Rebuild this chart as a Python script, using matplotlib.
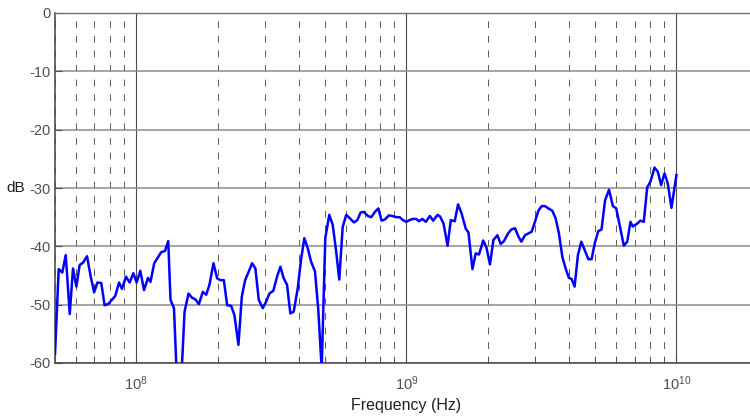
import numpy as np
import matplotlib
matplotlib.use("Agg")
import matplotlib.pyplot as plt
from matplotlib.ticker import LogLocator, NullFormatter

# measured response, frequency in MHz
freq_mhz = [50, 51.6, 53.2, 54.8, 56.7, 58.3, 60.0, 61.7, 63.5, 65.7,
            67.8, 69.8, 71.8, 74.2, 76.3, 78.6, 80.8, 83.6, 86.3, 88.5,
            91.6, 94.5, 97.5, 100.3, 103.5, 106.8, 110.5, 112.9, 116.5, 120.3,
            123.7, 127.7, 131.3, 133.9, 137.9, 141.4, 146.7, 150.9, 156.1, 160.7,
            165.6, 170.5, 176.4, 181.5, 186.6, 193.1, 199.3, 205.0, 211.0, 217.0,
            224.5, 230.9, 238.9, 245.9, 252.9, 261.0, 268.4, 276.1, 284.2, 294.0,
            302.4, 311.0, 321.8, 332.1, 341.6, 351.6, 361.6, 371.9, 382.8, 396.1,
            407.4, 419.0, 431.3, 443.6, 458.9, 472.0, 485.8, 501.0, 518.3, 533.6,
            548.8, 564.4, 581.0, 599, 618.1, 639.5, 658.4, 677.2, 696.4, 720.6,
            741.6, 764.9, 787.2, 809.7, 832.7, 861.6, 887.0, 917.7, 944.1, 971.0,
            999, 1028, 1057, 1088, 1113, 1146, 1181, 1222, 1257, 1305,
            1334, 1373, 1421, 1461, 1511, 1554, 1600, 1660, 1698, 1757,
            1807, 1858, 1926, 1980, 2040, 2101, 2174, 2236, 2299, 2379,
            2449, 2526, 2599, 2666, 2749, 2830, 2911, 2994, 3082, 3170,
            3260, 3356, 3472, 3571, 3673, 3781, 3888, 3999, 4092, 4198,
            4318, 4445, 4571, 4718, 4852, 4990, 5136, 5282, 5443, 5632,
            5817, 5988, 6158, 6388, 6575, 6761, 6895, 7159, 7362, 7572,
            7795, 8017, 8295, 8531, 8782, 9033, 9290, 9586, 10000]
level_db = [-58.5, -43.9, -44.5, -41.5, -51.6, -43.8, -46.9, -43.2, -42.8, -41.7,
            -45.2, -47.9, -46.2, -46.3, -50.1, -49.9, -49.3, -48.5, -46.2, -47.3,
            -45.2, -46.2, -44.6, -46.2, -44.2, -47.5, -45.4, -46.1, -42.9, -41.9,
            -41.0, -40.8, -39.1, -49.2, -50.6, -63.0, -63.0, -51.2, -48.1, -48.8,
            -49.1, -49.9, -47.8, -48.3, -46.6, -42.9, -45.5, -45.8, -45.8, -50.1,
            -50.2, -51.8, -56.9, -48.6, -45.8, -44.3, -42.9, -43.8, -49.2, -50.6,
            -49.5, -48.1, -47.6, -45.2, -43.5, -45.5, -46.6, -51.5, -51.2, -47.2,
            -42.3, -38.6, -40.3, -42.6, -44.3, -50.9, -61.0, -38.6, -34.6, -36.3,
            -40.6, -45.7, -36.7, -34.6, -35.2, -35.9, -35.5, -34.2, -34.1, -34.8,
            -35.0, -34.1, -33.5, -35.6, -35.4, -34.7, -34.8, -35.0, -35.0, -35.5,
            -35.8, -35.5, -35.3, -35.3, -35.7, -35.3, -35.8, -34.8, -35.6, -34.6,
            -34.9, -36.1, -39.9, -35.5, -35.7, -32.8, -34.3, -37.0, -37.6, -43.9,
            -41.2, -41.4, -39.0, -40.2, -43.1, -38.9, -38.1, -39.6, -39.1, -37.8,
            -37.1, -36.9, -38.3, -39.2, -38.1, -37.8, -37.5, -35.8, -33.9, -33.1,
            -33.1, -33.5, -33.9, -35.2, -37.8, -41.8, -43.8, -45.4, -45.6, -46.9,
            -41.5, -39.2, -40.6, -42.2, -42.2, -39.4, -37.4, -37.1, -32.1, -30.3,
            -33.1, -33.5, -36.3, -39.9, -39.2, -35.8, -36.6, -36.1, -35.6, -35.8,
            -29.9, -28.9, -26.5, -27.2, -29.5, -27.5, -29.2, -33.4, -27.8]

y_ticks = [0, -10, -20, -30, -40, -50, -60]

plt.rcParams['font.family'] = ['Liberation Sans', 'DejaVu Sans']
plt.rcParams['axes.unicode_minus'] = False

fig = plt.figure(figsize=(7.5, 4.2), dpi=100)
# right edge of the axes runs past the figure border
ax = fig.add_axes([55 / 750, 1 - 363 / 420, 702.7 / 750, 350 / 420])

f_hz = np.array(freq_mhz) * 1e6
ax.plot(f_hz, level_db, color='#0000ff', lw=1.8, zorder=5)

ax.set_xscale('log')
ax.set_xlim(5e7, 2e10)
ax.set_ylim(-60, 0)
ax.set_yticks(y_ticks)
ax.xaxis.set_major_locator(LogLocator(base=10, numticks=12))
ax.xaxis.set_minor_locator(LogLocator(base=10, subs=np.arange(2, 10), numticks=12))
ax.xaxis.set_minor_formatter(NullFormatter())

ax.grid(axis='y', which='major', color='#8c8c8c', lw=1.1)
ax.grid(axis='x', which='major', color='#4a4a4a', lw=0.8)
ax.grid(axis='x', which='minor', color='#5a5a5a', lw=0.7, linestyle=(0, (7, 8)))
ax.set_axisbelow(True)

for side in ['left', 'bottom']:
    ax.spines[side].set_color('#505050')
    ax.spines[side].set_linewidth(1.2)
ax.spines['top'].set_color('#707070')
ax.spines['top'].set_linewidth(1.0)
ax.spines['right'].set_visible(False)

ax.tick_params(axis='both', which='both', direction='in', colors='#505050',
               labelcolor='#505050', labelsize=10.5, top=False, right=False)
ax.tick_params(axis='y', length=5, pad=3)
ax.tick_params(axis='x', which='major', length=5, pad=8)
ax.tick_params(axis='x', which='minor', length=4)

ax.set_ylabel('dB', rotation=0, fontsize=11, color='#202020', va='center', ha='right')
ax.yaxis.set_label_coords(-0.042, 0.5)
ax.set_xlabel('Frequency (Hz)', fontsize=11.5, color='#202020')
ax.xaxis.set_label_coords(0.5, -0.1)

fig.savefig('out.png', dpi=100)
